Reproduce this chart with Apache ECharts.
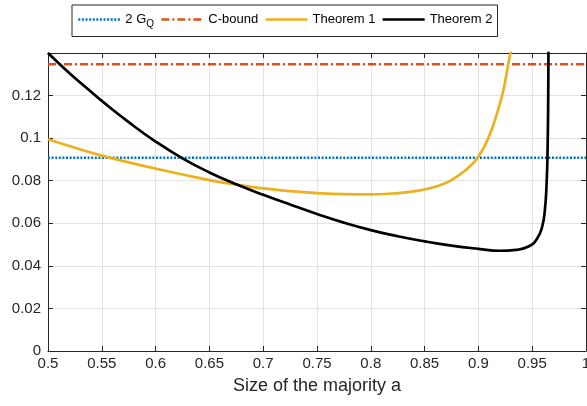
<!DOCTYPE html>
<html>
<head>
<meta charset="utf-8">
<script src="https://cdn.jsdelivr.net/npm/echarts@6/dist/echarts.min.js"></script>
<style>
html,body{margin:0;padding:0;background:#fff;}
#chart{width:587px;height:406px;}
</style>
</head>
<body>
<div id="chart"></div>
<script>
// x-axis tick labels
var xTicks = [0.5, 0.55, 0.6, 0.65, 0.7, 0.75, 0.8, 0.85, 0.9, 0.95, 1];
// constant bounds
var gqValue = 0.0908;
var cboundValue = 0.1347;
var constA = [0.5, 1];
// Theorem 1
var t1A = [0.50, 0.525, 0.55, 0.575, 0.60, 0.625, 0.65, 0.675, 0.70, 0.725, 0.75, 0.775, 0.80, 0.82, 0.84, 0.86, 0.875, 0.89, 0.90, 0.91, 0.9175, 0.922, 0.925, 0.9277, 0.930, 0.932];
var t1V = [0.0995, 0.0955, 0.0918, 0.0886, 0.0857, 0.0829, 0.0803, 0.0782, 0.0764, 0.0751, 0.0742, 0.0737, 0.0736, 0.0740, 0.0750, 0.0772, 0.0803, 0.0858, 0.0913, 0.1010, 0.1120, 0.1200, 0.1270, 0.1347, 0.1405, 0.1460];
// Theorem 2
var t2A = [0.50, 0.52, 0.54, 0.55, 0.575, 0.60, 0.625, 0.65, 0.675, 0.70, 0.725, 0.75, 0.775, 0.80, 0.825, 0.85, 0.875, 0.90, 0.92, 0.935, 0.947, 0.9546, 0.9593, 0.9618, 0.9634, 0.9643, 0.9649, 0.9652];
var t2V = [0.1400, 0.1305, 0.1218, 0.1175, 0.1075, 0.0984, 0.0905, 0.0839, 0.0783, 0.0734, 0.0688, 0.0644, 0.0603, 0.0568, 0.0539, 0.0515, 0.0495, 0.0480, 0.0471, 0.0475, 0.0492, 0.0528, 0.0585, 0.0663, 0.0789, 0.0945, 0.1200, 0.1500];

function zip(a, b) { return a.map(function (x, i) { return [x, b[i]]; }); }

var axisColor = '#262626';
var gridColor = '#e3e3e3';
var font = 'Liberation Sans';

var chart = echarts.init(document.getElementById('chart'), null, {renderer: 'canvas'});
chart.setOption({
  animation: false,
  backgroundColor: '#ffffff',
  textStyle: {fontFamily: font},
  grid: {left: 48, right: 1, top: 53, bottom: 55, containLabel: false, outerBoundsMode: 'none'},
  legend: {
    left: 72, top: 5,
    padding: [8, 5, 7, 5],
    itemGap: 6,
    itemWidth: 42, itemHeight: 12,
    borderColor: axisColor, borderWidth: 1, backgroundColor: '#fff',
    itemStyle: {opacity: 0, borderWidth: 0},
    lineStyle: {width: 2.6},
    textStyle: {fontFamily: font, fontSize: 13, color: '#000',
      rich: {sub: {fontSize: 10, fontFamily: font, color: '#000', padding: [10, 0, 0, 0]}}},
    formatter: function (name) { return name === '2 GQ' ? '2 G{sub|Q}' : name; },
    data: ['2 GQ', 'C-bound', 'Theorem 1', 'Theorem 2']
  },
  xAxis: [{
    type: 'value', min: 0.5, max: 1, interval: 0.05,
    name: 'Size of the majority a', nameLocation: 'middle', nameGap: 26,
    nameTextStyle: {fontFamily: font, fontSize: 18, color: axisColor},
    axisLine: {show: true, onZero: false, lineStyle: {color: axisColor, width: 1}},
    axisTick: {show: true, inside: true, length: 5, lineStyle: {color: axisColor}},
    axisLabel: {fontFamily: font, fontSize: 15, color: axisColor, margin: 5,
      formatter: function (v) { var s = xTicks.find(function (t) { return Math.abs(t - v) < 1e-9; }); return s === undefined ? '' : String(s); }},
    splitLine: {show: true, lineStyle: {color: gridColor, width: 1}}
  }, {
    type: 'value', min: 0.5, max: 1, interval: 0.05, position: 'top',
    axisLine: {show: true, onZero: false, lineStyle: {color: axisColor, width: 1}},
    axisTick: {show: true, inside: true, length: 5, lineStyle: {color: axisColor}},
    axisLabel: {show: false}, splitLine: {show: false}
  }],
  yAxis: [{
    type: 'value', min: 0, max: 0.14, interval: 0.02,
    axisLine: {show: true, onZero: false, lineStyle: {color: axisColor, width: 1}},
    axisTick: {show: true, inside: true, length: 5, lineStyle: {color: axisColor}},
    axisLabel: {fontFamily: font, fontSize: 15, color: axisColor, margin: 7, showMaxLabel: false,
      formatter: function (v) { return String(Math.round(v * 100) / 100); }},
    splitLine: {show: true, lineStyle: {color: gridColor, width: 1}}
  }, {
    type: 'value', min: 0, max: 0.14, interval: 0.02, position: 'right',
    axisLine: {show: true, onZero: false, lineStyle: {color: axisColor, width: 1}},
    axisTick: {show: true, inside: true, length: 5, lineStyle: {color: axisColor}},
    axisLabel: {show: false}, splitLine: {show: false}
  }],
  series: [{
    name: '2 GQ', type: 'line', symbol: 'none', clip: true,
    data: zip(constA, constA.map(function () { return gqValue; })),
    lineStyle: {color: '#0072BD', width: 2.4, type: [2, 1.6]}, itemStyle: {color: '#0072BD'}, z: 3
  }, {
    name: 'C-bound', type: 'line', symbol: 'none', clip: true,
    data: zip(constA, constA.map(function () { return cboundValue; })),
    lineStyle: {color: '#D95319', width: 2.4, type: [8, 3, 2, 3]}, itemStyle: {color: '#D95319'}, z: 3
  }, {
    name: 'Theorem 1', type: 'line', symbol: 'none', clip: true, smooth: 0.5,
    data: zip(t1A, t1V),
    lineStyle: {color: '#EDB120', width: 2.7}, itemStyle: {color: '#EDB120'}, z: 4
  }, {
    name: 'Theorem 2', type: 'line', symbol: 'none', clip: true, smooth: 0.5,
    data: zip(t2A, t2V),
    lineStyle: {color: '#000000', width: 2.7}, itemStyle: {color: '#000000'}, z: 5
  }]
});
</script>
</body>
</html>
